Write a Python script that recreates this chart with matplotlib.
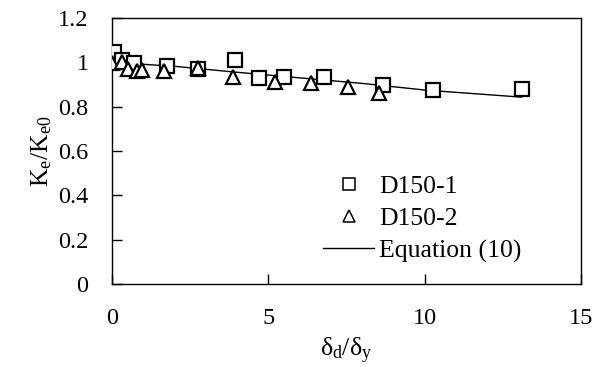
import matplotlib
matplotlib.use("Agg")
import matplotlib.pyplot as plt

plt.rcParams['font.family'] = ['Liberation Serif', 'DejaVu Serif']
plt.rcParams['mathtext.fontset'] = 'custom'
plt.rcParams['mathtext.rm'] = 'Liberation Serif'
plt.rcParams['mathtext.it'] = 'Liberation Serif:italic'

# specimen D150-1
d1_x = [0.06, 0.32, 0.7, 1.76, 2.75, 3.93, 4.7, 5.5, 6.78, 8.67, 10.27, 13.1]
d1_y = [1.045, 1.01, 0.995, 0.985, 0.97, 1.01, 0.93, 0.935, 0.935, 0.90, 0.875, 0.88]

# specimen D150-2
d2_x = [0.0, 0.3, 0.5, 0.8, 0.95, 1.67, 2.75, 3.87, 5.2, 6.36, 7.55, 8.55]
d2_y = [0.995, 1.0, 0.97, 0.96, 0.965, 0.96, 0.975, 0.935, 0.91, 0.905, 0.89, 0.86]

# Equation (10)
eq_x = [0.0, 2.0, 4.0, 6.0, 8.0, 10.0, 13.1]
eq_y = [1.0, 0.982, 0.955, 0.93, 0.905, 0.875, 0.843]

fig = plt.figure(figsize=(6.03, 3.67), dpi=100)
ax = fig.add_axes([0.186, 0.226, 0.7775, 0.725])

ax.plot(eq_x, eq_y, color='black', lw=1.0, label='Equation (10)', zorder=2)
ax.plot(d1_x, d1_y, ls='none', marker='s', ms=9.5, mfc='white', mec='black',
        mew=1.6, label='D150-1', zorder=3)
ax.plot(d2_x, d2_y, ls='none', marker='^', ms=10.5, mfc='white', mec='black',
        mew=1.6, label='D150-2', zorder=3)

ax.set_xlim(0, 15)
ax.set_ylim(0, 1.2)
ax.set_xticks([0, 5, 10, 15])
ax.set_yticks([0, 0.2, 0.4, 0.6, 0.8, 1.0, 1.2])
ax.set_yticklabels(['0', '0.2', '0.4', '0.6', '0.8', '1', '1.2'])
ax.tick_params(direction='in', length=7, width=1, labelsize=17.5, pad=17)
for s in ax.spines.values():
    s.set_linewidth(1.0)

ax.set_xlabel(r'$\mathrm{δ_d/δ_y}$', fontsize=18.5, labelpad=5)
ax.set_ylabel(r'$\mathrm{K_e/K_{e0}}$', fontsize=18.5, labelpad=3)

h, l = ax.get_legend_handles_labels()
order = [1, 2, 0]
leg = ax.legend([h[i] for i in order], [l[i] for i in order], loc='upper left',
                bbox_to_anchor=(0.40, 0.496), frameon=False, fontsize=18.5,
                markerscale=0.85, handlelength=2.0, handletextpad=0.2,
                labelspacing=0.35)
for lh in leg.legend_handles[:2]:
    lh.set_markeredgewidth(1.1)

fig.savefig('out.png', dpi=100)
